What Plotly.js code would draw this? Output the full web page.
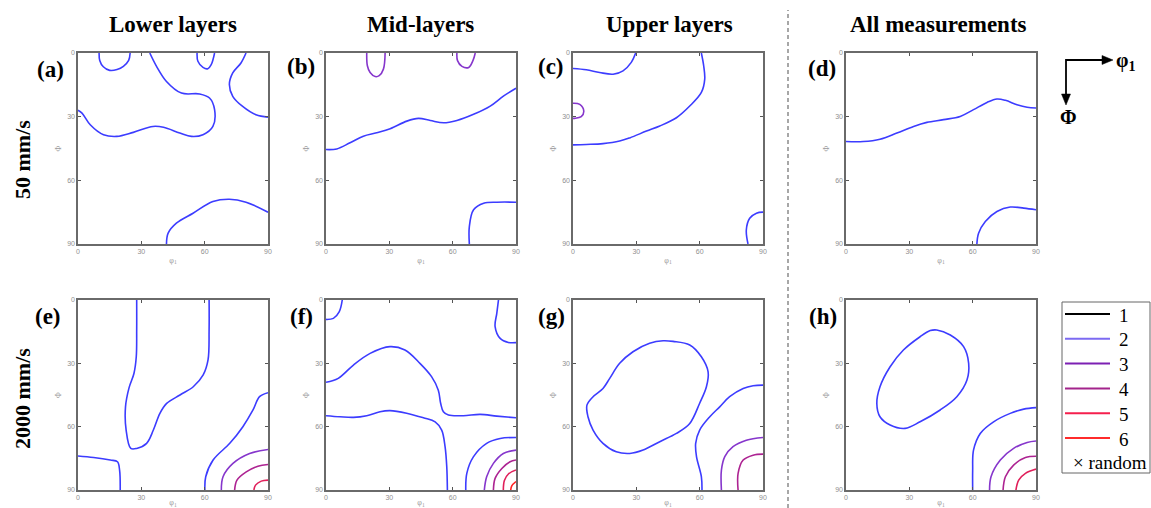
<!DOCTYPE html>
<html>
<head>
<meta charset="utf-8">
<script src="https://cdn.plot.ly/plotly-3.0.1.min.js"></script>
<style>html,body{margin:0;padding:0;background:#fff;}#chart{width:1151px;height:508px;}</style>
</head>
<body>
<div id="chart"></div>
<script>
// ---------------- DATA (contour lines, [phi1, Phi] in degrees) ----------------
const columnTitles = ['Lower layers', 'Mid-layers', 'Upper layers', 'All measurements'];
const rowTitles = ['50 mm/s', '2000 mm/s'];
const panelLabels = ['(a)', '(b)', '(c)', '(d)', '(e)', '(f)', '(g)', '(h)'];
const tickValues = [0, 30, 60, 90];
const legendLevels = ['1', '2', '3', '4', '5', '6'];
const legendRandom = '× random';

// (a) Lower layers, 50 mm/s
const a1 = [[10,0],[10.3,3.5],[12,6.5],[15,8.2],[18.5,7.8],[21.5,6.3],[24,3.5],[24.7,0]];
const a2 = [[34,0],[37.2,6.3],[41.9,13.4],[49,18.9],[57.6,19.3],[62.3,21.2],[64.7,26.7],[63.9,34.6],[59.2,38.5],[53.7,39.3],[48.2,37.7],[40.5,35],[35.5,34.6],[26.2,37.4],[18.4,39.3],[12.1,38.5],[5.8,33.8],[1.9,28.3],[0,27]];
const a3 = [[56.4,0],[56.8,3.9],[59.2,6.8],[61.5,7.4],[63.1,5.5],[64.7,0]];
const a4 = [[79.6,0],[77.2,4.7],[73.3,9.4],[71.7,14.9],[73.3,20.4],[78,25.2],[84.3,29.1],[90,30.2]];
const a5 = [[41.9,90],[42.7,84.9],[46.6,80.2],[54.5,75.5],[63.9,70],[71.7,68.9],[79.6,70.3],[90,75]];
// (b) Mid-layers, 50 mm/s
const b1 = [[19.3,0],[19.6,6],[20.9,9.2],[23.3,11.1],[25.2,10.7],[27.2,7.6],[28,0]];
const b2 = [[62,0],[62.3,3.6],[64.4,6.3],[67.6,6.8],[69.6,3.6],[70.7,0]];
const b3 = [[0,45.5],[5.1,45.2],[11.4,42.3],[17.7,39.2],[24,37.6],[30.4,35.7],[38.3,32.1],[43.8,30.8],[49.4,31.8],[55.7,32.9],[62,31.8],[69.9,28.9],[77.8,25],[84.2,20.2],[90,16.6]];
const b4 = [[67.9,90],[67.9,81.8],[69.9,73.9],[74.7,70.8],[81,70.3],[90,70.3]];
// (c) Upper layers, 50 mm/s
const c1 = [[0,7.3],[6.3,7.9],[12.6,9.2],[19,10],[23.7,8.4],[27.6,4.4],[29.7,0]];
const c2 = [[0,23.7],[3.2,24.2],[5.1,27.3],[3.9,30],[0.8,30.8],[0,30.8]];
const c3 = [[60.8,0],[61.9,6],[62.4,12.3],[60.8,18.6],[55.3,25],[49,30.5],[41.1,34.4],[34.8,36.8],[26.9,40],[22.1,41.5],[14.2,42.7],[6.3,43.1],[0,43.3]];
const c4 = [[82.9,90],[82.1,83.4],[83.7,77.9],[86.9,75.5],[90,75]];
// (d) All measurements, 50 mm/s
const d1 = [[0,41.7],[8.2,41.7],[16.1,40.6],[24.1,37.7],[32,34.6],[38.3,32.7],[46.2,31.4],[54.1,29.9],[60.4,26.7],[66.8,23.3],[71.5,21.7],[75.5,22.3],[81,24.4],[85.8,25.6],[90,25.9]];
const d2 = [[62,90],[62.8,84.9],[66,79.4],[71.5,74.7],[77.8,72.6],[84.2,73.1],[90,73.9]];
// (e) Lower layers, 2000 mm/s
const e1 = [[27.8,0],[27.8,14.2],[27.6,26.9],[26.5,34.8],[24.2,41.5],[22.5,50.6],[22.8,61.6],[25,70.3],[27.8,70.3],[32.5,67.9],[35.7,61.6],[38.8,53.7],[42,49],[48.3,45],[54.6,41.1],[59.3,35.5],[61.6,28.4],[62.1,14.2],[62.1,0]];
const e2 = [[0,73.9],[7.4,74.6],[15.3,75.8],[18.7,76.6],[19.7,80.6],[20,90]];
const e3 = [[60.1,90],[60.5,83.7],[64,75.8],[71.9,67.9],[78.1,60],[82.9,52.1],[86,45.8],[90,43.9]];
const e4 = [[67.9,90],[68.7,83.7],[73.4,77.4],[81.3,72.7],[90,70.8]];
const e5 = [[74.2,90],[75.3,85.3],[79.7,81.4],[85.2,78.7],[90,77.9]];
const e6 = [[83.3,90],[84.1,87.7],[86.8,85.8],[90,85.3]];
// (f) Mid-layers, 2000 mm/s
const f1 = [[0,9.2],[3.5,8.7],[6.3,5.5],[7.7,0]];
const f2 = [[81.7,0],[80.9,6.3],[80.1,12.6],[82.5,18.2],[86.4,20.1],[90,20.2]];
const f3 = [[0,39],[5.8,37.1],[13,30.8],[20.9,25.3],[30.3,22.1],[37.4,23.7],[44.5,30],[50,36.3],[53.2,42.7],[54.3,48.9],[55.6,52.9],[58,54.5],[65.1,54.8],[73,54.2],[80.9,55],[90,55.8]];
const f4 = [[0,54.8],[6.6,55.3],[13,55.6],[19.3,54.8],[25.6,52.9],[30.3,52.4],[38.2,53.6],[46.1,55.8],[51.7,57.7],[54.8,61.6],[56.4,69.5],[57.2,79],[57.5,90]];
const f5 = [[66.2,90],[66.7,82.1],[69.8,74.3],[76.1,67.9],[82.5,65.6],[90,65.1]];
const f6 = [[75,90],[76.1,83.7],[79.3,77.4],[84,72.7],[90,71.1]];
const f7 = [[79.3,90],[80.1,84.5],[83.3,79.8],[87.2,76.6],[90,75.8]];
const f8 = [[84,90],[84.5,85.5],[86.5,82.3],[90,80.5]];
const f9 = [[87.5,90],[88,88],[90,86]];
// (g) Upper layers, 2000 mm/s
const g1 = [[36.3,20.5],[42.7,19.3],[47.4,19.6],[55.3,21.3],[60.8,26.9],[64,34],[63.2,41.1],[60,48.9],[55.3,58.5],[49,63.2],[41.1,67.1],[33.2,71.1],[26.9,72.7],[20.5,71.9],[14.2,67.9],[9.5,61.6],[7.1,55.3],[6.6,49.8],[9.5,45.8],[14.2,41.9],[17.4,37.1],[22.1,30],[28.4,24.5],[36.3,20.5]];
const g2 = [[61.1,90],[60.8,83.7],[58.5,74.2],[58.1,67.9],[60,61.6],[64.8,55.3],[69.5,50.6],[74.2,45.8],[80.6,41.9],[85.3,40.6],[90,40.3]];
const g3 = [[70.3,90],[70.3,80.6],[71.9,74.2],[75.8,69.5],[82.1,66.4],[90,65.1]];
const g4 = [[78.2,90],[78.2,82.1],[80.6,75.8],[85.3,73.5],[90,73]];
// (h) All measurements, 2000 mm/s
const h1 = [[43,14.2],[49.4,16.6],[55.7,22.1],[58.1,30],[57.3,37.9],[52.5,45.8],[44.6,52.1],[35.1,57.7],[28,60.8],[20.9,59.2],[16.1,55.3],[14.6,49],[16.1,41.1],[20.9,31.6],[27.2,23.7],[35.1,17.4],[39.9,14.5],[43,14.2]];
const h2 = [[60,90],[60,80.6],[60.4,71.1],[63.6,63.2],[69.9,57.7],[77.8,53.7],[84.2,51.7],[90,51]];
const h3 = [[68,90],[68.7,83.7],[73.1,75.8],[79.4,70.3],[85.8,67.5],[90,66.8]];
const h4 = [[74.4,90],[75.5,83.7],[79.4,78.2],[85,74.6],[90,74]];
const h5 = [[80.5,90],[81.8,85.3],[85,82.1],[90,80.1]];

// contour level of each line, per panel
const panelA = [[2,a1],[2,a2],[2,a3],[2,a4],[2,a5]];
const panelB = [[3,b1],[3,b2],[2,b3],[2,b4]];
const panelC = [[2,c1],[3,c2],[2,c3],[2,c4]];
const panelD = [[2,d1],[2,d2]];
const panelE = [[2,e1],[2,e2],[2,e3],[3,e4],[4,e5],[5,e6]];
const panelF = [[2,f1],[2,f2],[2,f3],[2,f4],[2,f5],[3,f6],[4,f7],[5,f8],[6,f9]];
const panelG = [[2,g1],[2,g2],[3,g3],[4,g4]];
const panelH = [[2,h1],[2,h2],[3,h3],[4,h4],[5,h5]];
const panels = [panelA, panelB, panelC, panelD, panelE, panelF, panelG, panelH];

// ---------------- STYLE / LAYOUT ----------------
const W = 1151, H = 508;
const lineColor = {1:'#000000', 2:'#3c3cff', 3:'#8636cc', 4:'#ad2392', 5:'#e01f5a', 6:'#ff2222'};
const legendColor = ['#000000', '#7c6af2', '#7d20b3', '#a3248c', '#f51f4d', '#ff2b2b'];
const colPx = [[78,268],[326,516],[573,763],[846,1036]];
const rowPx = [[53,244],[300,490]];
const px = v => v / W;
const py = v => 1 - v / H;
const serif = 'Liberation Serif, Times New Roman, serif';

const traces = [];
const layout = {
  width: W, height: H,
  margin: {l:0, r:0, t:0, b:0},
  paper_bgcolor: '#ffffff', plot_bgcolor: '#ffffff',
  showlegend: false,
  annotations: [], shapes: []
};

panels.forEach((contours, i) => {
  const n = i + 1;
  const xa = 'xaxis' + (n === 1 ? '' : n), ya = 'yaxis' + (n === 1 ? '' : n);
  const xr = 'x' + (n === 1 ? '' : n), yr = 'y' + (n === 1 ? '' : n);
  const col = i % 4, row = Math.floor(i / 4);
  const common = {
    tickmode: 'array', tickvals: tickValues, ticktext: tickValues.map(String),
    ticks: 'inside', ticklen: 3, tickwidth: 1, tickcolor: '#555',
    showline: true, linecolor: '#6a6a6a', linewidth: 1.6, mirror: 'ticks',
    showgrid: false, zeroline: false, fixedrange: true,
    tickfont: {family: 'Liberation Sans, Arial, sans-serif', size: 7, color: '#8f8f8f'}
  };
  layout[xa] = Object.assign({}, common, {
    domain: [px(colPx[col][0]), px(colPx[col][1])], range: [0, 90], anchor: yr,
    title: {text: 'φ<sub>1</sub>', font: {family: 'Liberation Serif, serif', size: 8, color: '#9a9a9a'}, standoff: 3}
  });
  layout[ya] = Object.assign({}, common, {
    domain: [py(rowPx[row][1]), py(rowPx[row][0])], range: [90, 0], anchor: xr,
    title: {text: 'Φ', font: {family: 'Liberation Serif, serif', size: 8, color: '#9a9a9a'}, standoff: 4}
  });
  contours.forEach(([lvl, pts]) => {
    traces.push({
      type: 'scatter', mode: 'lines', xaxis: xr, yaxis: yr,
      x: pts.map(p => p[0]), y: pts.map(p => p[1]),
      line: {color: lineColor[lvl], width: 1.6, shape: 'spline', smoothing: 1},
      hoverinfo: 'skip'
    });
  });
});

// column titles
const colTitleX = [173, 420, 669, 938];
columnTitles.forEach((t, i) => layout.annotations.push({
  xref: 'paper', yref: 'paper', x: px(colTitleX[i]), y: py(24), text: '<b>' + t + '</b>',
  showarrow: false, xanchor: 'center', yanchor: 'middle',
  font: {family: serif, size: 23, color: '#000'}
}));
// row titles
const rowTitleY = [160, 399];
rowTitles.forEach((t, i) => layout.annotations.push({
  xref: 'paper', yref: 'paper', x: px(22), y: py(rowTitleY[i]), text: '<b>' + t + '</b>',
  showarrow: false, xanchor: 'center', yanchor: 'middle', textangle: -90,
  font: {family: serif, size: 22, color: '#000'}
}));
// panel labels
const labelPos = [[50,70],[301,66],[551,66],[822,69],[48,316],[301,316],[551,316],[823,316]];
panelLabels.forEach((t, i) => layout.annotations.push({
  xref: 'paper', yref: 'paper', x: px(labelPos[i][0]), y: py(labelPos[i][1]), text: '<b>' + t + '</b>',
  showarrow: false, xanchor: 'center', yanchor: 'middle',
  font: {family: serif, size: 23, color: '#000'}
}));

// dashed separator
layout.shapes.push({type: 'line', xref: 'paper', yref: 'paper', x0: px(788), x1: px(788), y0: 0, y1: py(10),
  line: {color: '#8a8a8a', width: 1.5, dash: '4px,3px'}});

// axis direction sketch (lines + filled arrowheads)
const arrowLine = {color: '#000', width: 1.8};
layout.shapes.push({type: 'line', xref: 'paper', yref: 'paper', x0: px(1066), x1: px(1104), y0: py(60), y1: py(60), line: arrowLine});
layout.shapes.push({type: 'line', xref: 'paper', yref: 'paper', x0: px(1066), x1: px(1066), y0: py(59), y1: py(96), line: arrowLine});
layout.shapes.push({type: 'path', xref: 'paper', yref: 'paper',
  path: `M ${px(1113)} ${py(60)} L ${px(1102)} ${py(55.5)} L ${px(1102)} ${py(64.5)} Z`,
  fillcolor: '#000', line: {color: '#000', width: 0.5}});
layout.shapes.push({type: 'path', xref: 'paper', yref: 'paper',
  path: `M ${px(1066)} ${py(105)} L ${px(1061.5)} ${py(94)} L ${px(1070.5)} ${py(94)} Z`,
  fillcolor: '#000', line: {color: '#000', width: 0.5}});
layout.annotations.push({xref: 'paper', yref: 'paper', x: px(1114), y: py(61), text: '<b>φ<sub>1</sub></b>',
  showarrow: false, xanchor: 'left', yanchor: 'middle', font: {family: serif, size: 20, color: '#000'}});
layout.annotations.push({xref: 'paper', yref: 'paper', x: px(1068), y: py(117), text: '<b>Φ</b>',
  showarrow: false, xanchor: 'center', yanchor: 'middle', font: {family: serif, size: 20, color: '#000'}});

// level legend box
layout.shapes.push({type: 'rect', xref: 'paper', yref: 'paper', x0: px(1062), x1: px(1150), y0: py(473), y1: py(302),
  line: {color: '#666', width: 1}, fillcolor: 'rgba(0,0,0,0)'});
const legendRow0 = 314, legendStep = 24.8;
legendLevels.forEach((t, i) => {
  const yy = legendRow0 + legendStep * i;
  layout.shapes.push({type: 'line', xref: 'paper', yref: 'paper', x0: px(1065), x1: px(1110), y0: py(yy), y1: py(yy),
    line: {color: legendColor[i], width: 2}});
  layout.annotations.push({xref: 'paper', yref: 'paper', x: px(1117), y: py(yy + 1), text: t,
    showarrow: false, xanchor: 'left', yanchor: 'middle', font: {family: serif, size: 19, color: '#000'}});
});
layout.annotations.push({xref: 'paper', yref: 'paper', x: px(1071), y: py(legendRow0 + legendStep * 6), text: legendRandom,
  showarrow: false, xanchor: 'left', yanchor: 'middle', font: {family: serif, size: 19, color: '#000'}});

Plotly.newPlot('chart', traces, layout, {displayModeBar: false, staticPlot: true});
</script>
</body>
</html>
